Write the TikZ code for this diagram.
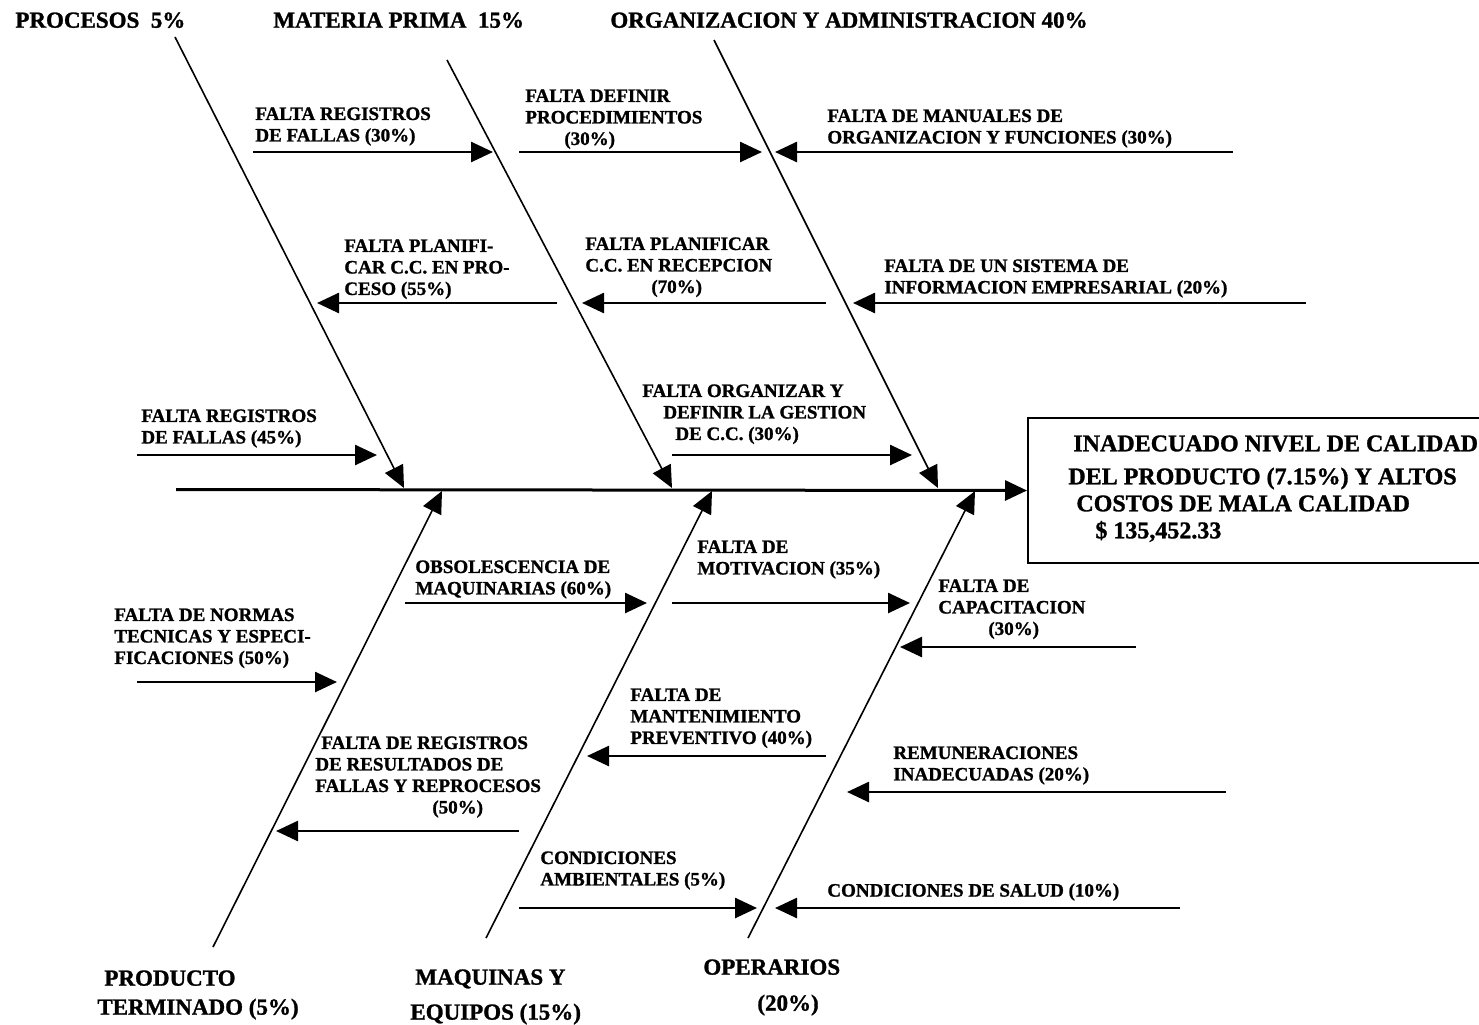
\documentclass[tikz,border=0pt]{standalone}
\usepackage{fontspec}
\setmainfont{Liberation Serif}[BoldFeatures={FakeBold=1.2}]
\usetikzlibrary{arrows.meta}

\tikzset{
  tip/.style={-{Triangle[length=11pt,width=10pt]}},
  bone/.style={tip, line width=0.8pt},
  sub/.style={tip, line width=1.3pt},
  spine/.style={tip, line width=1.5pt},
  cause/.style={anchor=north west, inner sep=0pt, align=left,
    font=\fontsize{9.5}{10.75}\selectfont\bfseries},
  category/.style={anchor=north west, inner sep=0pt, align=left,
    font=\fontsize{11.5}{14}\selectfont\bfseries},
  effectbox/.style={draw, line width=1pt, anchor=north west, inner sep=0pt,
    minimum width=240pt, minimum height=72.5pt},
}

\begin{document}
\begin{tikzpicture}[x=0.5pt, y=-0.5pt]
\useasboundingbox (0,0) rectangle (1479,1024);
\fill[white] (0,0) rectangle (1479,1024);

% effect box and spine
\node[effectbox] (effect) at (1027,417) {};
\node[anchor=north west, inner sep=0pt, align=left,
      font=\fontsize{12}{13.5}\selectfont\bfseries] (effecttext) at (1068,435)
  {\hspace*{2.5pt}INADECUADO NIVEL DE CALIDAD\\[3pt]DEL PRODUCTO (7.15\%) Y ALTOS\\\hspace*{4pt}COSTOS DE MALA CALIDAD\\\hspace*{13.5pt}\$ 135,452.33};
\coordinate (tail) at (176,489.5);
\draw[spine] (tail) -- (effect.west);

% category headings
\node[category] (c1) at (15,12) {PROCESOS\ \ 5\%};
\node[category] (c2) at (273,12) {MATERIA PRIMA\ \ 15\%};
\node[category] (c3) at (610,12) {ORGANIZACION Y ADMINISTRACION 40\%};
\node[category, font=\fontsize{11.5}{14.5}\selectfont\bfseries] (c4) at (97,970)
  {\hspace*{3.5pt}PRODUCTO\\TERMINADO (5\%)};
\node[category, font=\fontsize{11.5}{17.5}\selectfont\bfseries] (c5) at (410,969)
  {\hspace*{2.5pt}MAQUINAS Y\\EQUIPOS (15\%)};
\node[category, font=\fontsize{11.5}{18}\selectfont\bfseries] (c6) at (703,959)
  {OPERARIOS\\\hspace*{27pt}(20\%)};

% main bones
\coordinate (b1s) at (175,37);  \coordinate (b1e) at (404,488);
\coordinate (b2s) at (447,60);  \coordinate (b2e) at (672,488);
\coordinate (b3s) at (714,40);  \coordinate (b3e) at (938,488);
\coordinate (b4s) at (213,947); \coordinate (b4e) at (442,491);
\coordinate (b5s) at (486,938); \coordinate (b5e) at (712,491);
\coordinate (b6s) at (748,938); \coordinate (b6e) at (975,491);
\foreach \i in {1,...,6} \draw[bone] (b\i s) -- (b\i e);

% secondary causes: arrows
\coordinate (a1s) at (253,152);  \coordinate (a1e) at (493,152);
\coordinate (a2s) at (519,152);  \coordinate (a2e) at (762,152);
\coordinate (a3s) at (1233,152); \coordinate (a3e) at (775,152);
\coordinate (a4s) at (557,303);  \coordinate (a4e) at (317,303);
\coordinate (a5s) at (826,303);  \coordinate (a5e) at (582,303);
\coordinate (a6s) at (1306,303); \coordinate (a6e) at (853,303);
\coordinate (a7s) at (137,455);  \coordinate (a7e) at (377,455);
\coordinate (a8s) at (672,455);  \coordinate (a8e) at (912,455);
\coordinate (a9s) at (405,603);  \coordinate (a9e) at (647,603);
\coordinate (a10s) at (672,603); \coordinate (a10e) at (910,603);
\coordinate (a11s) at (1136,647);\coordinate (a11e) at (900,647);
\coordinate (a12s) at (137,682); \coordinate (a12e) at (337,682);
\coordinate (a13s) at (826,756); \coordinate (a13e) at (587,756);
\coordinate (a14s) at (519,831); \coordinate (a14e) at (276,831);
\coordinate (a15s) at (1226,792);\coordinate (a15e) at (847,792);
\coordinate (a16s) at (519,908); \coordinate (a16e) at (757,908);
\coordinate (a17s) at (1180,908);\coordinate (a17e) at (775,908);
\foreach \i in {1,...,17} \draw[sub] (a\i s) -- (a\i e);

% secondary causes: labels
\node[cause] (l1) at (255,107) {FALTA REGISTROS\\DE FALLAS (30\%)};
\node[cause] (l2) at (525,89) {FALTA DEFINIR\\PROCEDIMIENTOS\\\hspace*{19.5pt}(30\%)};
\node[cause] (l3) at (827,109) {FALTA DE MANUALES DE\\ORGANIZACION Y FUNCIONES (30\%)};
\node[cause] (l4) at (344,239) {FALTA PLANIFI-\\CAR C.C. EN PRO-\\CESO (55\%)};
\node[cause] (l5) at (585,237) {FALTA PLANIFICAR\\C.C. EN RECEPCION\\\hspace*{33pt}(70\%)};
\node[cause] (l6) at (884,259) {FALTA DE UN SISTEMA DE\\INFORMACION EMPRESARIAL (20\%)};
\node[cause] (l7) at (141,409) {FALTA REGISTROS\\DE FALLAS (45\%)};
\node[cause] (l8) at (642,384) {FALTA ORGANIZAR Y\\\hspace*{10.5pt}DEFINIR LA GESTION\\\hspace*{16.5pt}DE C.C. (30\%)};
\node[cause] (l9) at (415,560) {OBSOLESCENCIA DE\\MAQUINARIAS (60\%)};
\node[cause] (l10) at (697,540) {FALTA DE\\MOTIVACION (35\%)};
\node[cause] (l11) at (938,579) {FALTA DE\\CAPACITACION\\\hspace*{25pt}(30\%)};
\node[cause] (l12) at (114,608) {FALTA DE NORMAS\\TECNICAS Y ESPECI-\\FICACIONES (50\%)};
\node[cause] (l13) at (630,688) {FALTA DE\\MANTENIMIENTO\\PREVENTIVO (40\%)};
\node[cause] (l14) at (315,736) {\hspace*{3pt}FALTA DE REGISTROS\\DE RESULTADOS DE\\FALLAS Y REPROCESOS\\\hspace*{58.5pt}(50\%)};
\node[cause] (l15) at (893,746) {REMUNERACIONES\\INADECUADAS (20\%)};
\node[cause] (l16) at (540,851) {CONDICIONES\\AMBIENTALES (5\%)};
\node[cause] (l17) at (827,883) {CONDICIONES DE SALUD (10\%)};
\end{tikzpicture}
\end{document}
